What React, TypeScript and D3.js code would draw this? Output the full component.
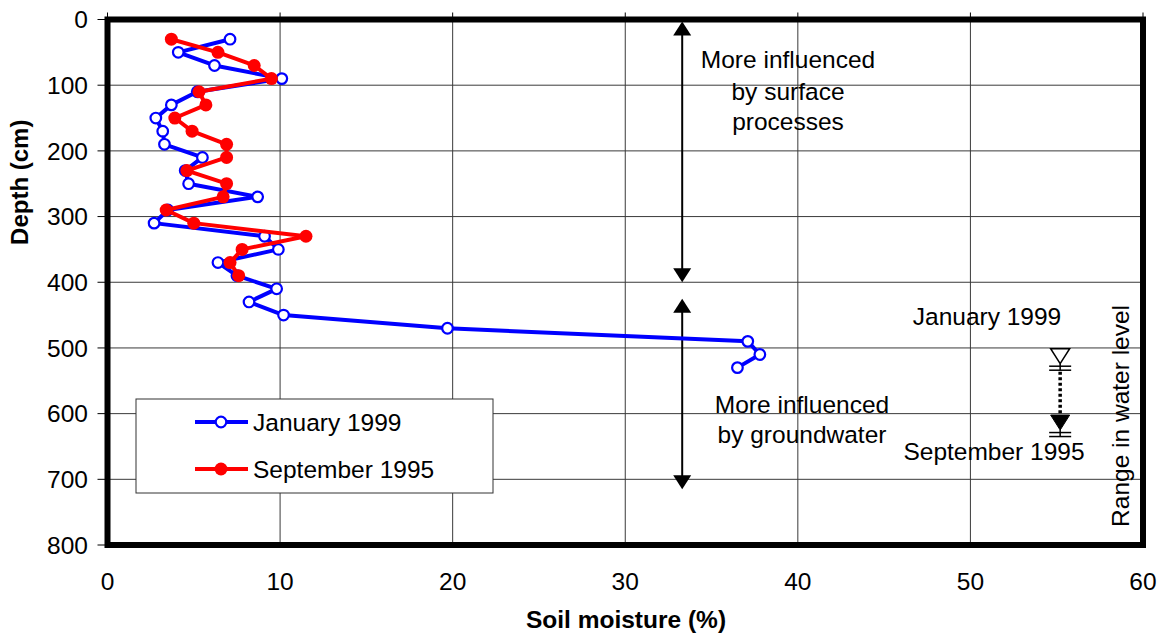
import React from "react";
import * as d3 from "d3";

const xTicks = [0, 10, 20, 30, 40, 50, 60];
const yTicks = [0, 100, 200, 300, 400, 500, 600, 700, 800];

const janDepths = [30, 50, 70, 90, 110, 130, 150, 170, 190, 210, 230, 250, 270, 290, 310, 330, 350, 370, 390, 410, 430, 450, 470, 490, 510, 530];
const janMoisture = [7.1, 4.1, 6.2, 10.1, 5.2, 3.7, 2.8, 3.2, 3.3, 5.5, 4.5, 4.7, 8.7, 3.5, 2.7, 9.1, 9.9, 6.4, 7.5, 9.8, 8.2, 10.2, 19.7, 37.1, 37.8, 36.5];

const sepDepths = [30, 50, 70, 90, 110, 130, 150, 170, 190, 210, 230, 250, 270, 290, 310, 330, 350, 370, 390];
const sepMoisture = [3.7, 6.4, 8.5, 9.5, 5.3, 5.7, 3.9, 4.9, 6.9, 6.9, 4.6, 6.9, 6.7, 3.4, 5.0, 11.5, 7.8, 7.1, 7.6];

const seriesNames = ["January 1999", "September 1995"];
const seriesColors = ["#0000FF", "#FF0000"];

// Annotation positions in data units
const arrowX = 33.3;
const upperArrow = [0, 400];
const lowerArrow = [425, 715];
const waterX = 55.2;
const waterLevels = [524, 625]; // depth of triangle tips

const W = 1163;
const H = 636;
const FONT = "'Liberation Sans', Arial, Helvetica, sans-serif";
const FS = 24.5;

export default function App() {
  const x = d3.scaleLinear().domain([0, 60]).range([107.5, 1143]);
  const y = d3.scaleLinear().domain([0, 800]).range([19.5, 545]);

  const line = d3
    .line<[number, number]>()
    .x((d) => x(d[0]))
    .y((d) => y(d[1]));

  const janPts: [number, number][] = janMoisture.map((m, i) => [m, janDepths[i]]);
  const sepPts: [number, number][] = sepMoisture.map((m, i) => [m, sepDepths[i]]);

  const ax = x(arrowX);
  const head = (tipY: number, dir: 1 | -1) => {
    const h = 14;
    const w = 9;
    return `M${ax},${tipY} L${ax - w},${tipY - dir * h} L${ax + w},${tipY - dir * h} Z`;
  };

  const wx = x(waterX);
  const janTip = y(waterLevels[0]);
  const sepTip = y(waterLevels[1]);
  const triH = 15;
  const triW = 9.5;

  const legendX = 136;
  const legendY = 399;
  const legendRows = [422, 469];

  return (
    <svg
      width={W}
      height={H}
      style={{ position: "absolute", left: 0, top: 0, background: "#fff" }}
      fontFamily={FONT}
    >
      <rect x={0} y={0} width={W} height={H} fill="#fff" />
      {/* grid */}
      {xTicks.slice(1, -1).map((t) => (
        <line key={"gx" + t} x1={x(t)} x2={x(t)} y1={y(0)} y2={y(800)} stroke="#3a3a3a" strokeWidth={1} />
      ))}
      {yTicks.slice(1, -1).map((t) => (
        <line key={"gy" + t} x1={x(0)} x2={x(60)} y1={y(t)} y2={y(t)} stroke="#3a3a3a" strokeWidth={1} />
      ))}
      {/* ticks */}
      {xTicks.map((t) => (
        <line key={"tx" + t} x1={x(t)} x2={x(t)} y1={y(0) - 7} y2={y(0)} stroke="#000" strokeWidth={1} />
      ))}
      {yTicks.map((t) => (
        <line key={"ty" + t} x1={x(0) - 10} x2={x(0)} y1={y(t)} y2={y(t)} stroke="#000" strokeWidth={1} />
      ))}
      {/* tick labels */}
      {xTicks.map((t) => (
        <text key={"lx" + t} x={x(t)} y={590} fontSize={FS} textAnchor="middle" fill="#000">
          {t}
        </text>
      ))}
      {yTicks.map((t) => (
        <text key={"ly" + t} x={88} y={y(t)} dy="0.36em" fontSize={FS} textAnchor="end" fill="#000">
          {t}
        </text>
      ))}
      {/* axis titles */}
      <text x={626} y={628} fontSize={FS} fontWeight="bold" textAnchor="middle">
        Soil moisture (%)
      </text>
      <text
        transform={`translate(28,${y(400) - 100}) rotate(-90)`}
        x={0}
        y={0}
        fontSize={24}
        fontWeight="bold"
        textAnchor="middle"
      >
        Depth (cm)
      </text>

      {/* arrows */}
      <line x1={ax} x2={ax} y1={y(upperArrow[0]) + 8} y2={y(upperArrow[1]) - 8} stroke="#000" strokeWidth={2} />
      <path d={head(y(upperArrow[0]) + 2, -1)} fill="#000" />
      <path d={head(y(upperArrow[1]), 1)} fill="#000" />
      <line x1={ax} x2={ax} y1={y(lowerArrow[0]) + 8} y2={y(lowerArrow[1]) - 8} stroke="#000" strokeWidth={2} />
      <path d={head(y(lowerArrow[0]), -1)} fill="#000" />
      <path d={head(y(lowerArrow[1]), 1)} fill="#000" />

      {/* annotation texts */}
      <g fontSize={FS} textAnchor="middle" fill="#000">
        <text x={788} y={68}>More influenced</text>
        <text x={788} y={100}>by surface</text>
        <text x={788} y={130}>processes</text>
        <text x={802} y={413}>More influenced</text>
        <text x={802} y={443}>by groundwater</text>
        <text x={987} y={325}>January 1999</text>
        <text x={994} y={460}>September 1995</text>
        <text transform={`translate(1129,${y(500) + 68}) rotate(-90)`} x={0} y={0}>
          Range in water level
        </text>
      </g>

      {/* water level symbols */}
      <line x1={wx} x2={wx} y1={janTip + 8} y2={sepTip - triH} stroke="#000" strokeWidth={3.5} strokeDasharray="3,2.5" />
      <path
        d={`M${wx - triW},${janTip - triH} L${wx + triW},${janTip - triH} L${wx},${janTip} Z`}
        fill="#fff"
        stroke="#000"
        strokeWidth={1.5}
      />
      <line x1={wx - 11} x2={wx + 11} y1={janTip + 2.5} y2={janTip + 2.5} stroke="#000" strokeWidth={1.5} />
      <line x1={wx - 11} x2={wx + 11} y1={janTip + 6.5} y2={janTip + 6.5} stroke="#000" strokeWidth={1.5} />
      <line x1={wx} x2={wx} y1={janTip} y2={janTip + 6.5} stroke="#000" strokeWidth={1.5} />
      <path
        d={`M${wx - triW},${sepTip - triH} L${wx + triW},${sepTip - triH} L${wx},${sepTip} Z`}
        fill="#000"
        stroke="#000"
        strokeWidth={1}
      />
      <line x1={wx - 11} x2={wx + 11} y1={sepTip + 2.5} y2={sepTip + 2.5} stroke="#000" strokeWidth={1.5} />
      <line x1={wx - 11} x2={wx + 11} y1={sepTip + 6.5} y2={sepTip + 6.5} stroke="#000" strokeWidth={1.5} />
      <line x1={wx} x2={wx} y1={sepTip} y2={sepTip + 6.5} stroke="#000" strokeWidth={1.5} />

      {/* series */}
      <path d={line(janPts) || ""} fill="none" stroke={seriesColors[0]} strokeWidth={4} strokeLinejoin="round" />
      {janPts.map((p, i) => (
        <circle key={"j" + i} cx={x(p[0])} cy={y(p[1])} r={5.3} fill="#fff" stroke={seriesColors[0]} strokeWidth={2.2} />
      ))}
      <path d={line(sepPts) || ""} fill="none" stroke={seriesColors[1]} strokeWidth={4} strokeLinejoin="round" />
      {sepPts.map((p, i) => (
        <circle key={"s" + i} cx={x(p[0])} cy={y(p[1])} r={6.5} fill={seriesColors[1]} />
      ))}

      {/* legend */}
      <rect x={legendX} y={legendY} width={357} height={94} fill="#fff" stroke="#333" strokeWidth={1} />
      {seriesNames.map((name, i) => (
        <g key={name}>
          <line x1={195} x2={248} y1={legendRows[i]} y2={legendRows[i]} stroke={seriesColors[i]} strokeWidth={4} />
          {i === 0 ? (
            <circle cx={221} cy={legendRows[i]} r={5.3} fill="#fff" stroke={seriesColors[i]} strokeWidth={2.2} />
          ) : (
            <circle cx={221} cy={legendRows[i]} r={6.5} fill={seriesColors[i]} />
          )}
          <text x={253} y={legendRows[i]} dy="0.36em" fontSize={FS} fill="#000">
            {name}
          </text>
        </g>
      ))}

      {/* frame */}
      <rect x={x(0)} y={y(0)} width={x(60) - x(0)} height={y(800) - y(0)} fill="none" stroke="#000" strokeWidth={6} />
    </svg>
  );
}
